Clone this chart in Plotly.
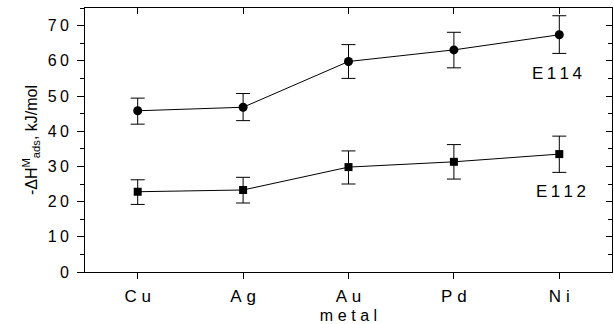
import plotly.graph_objects as go

# Metals on the x axis
metals = ["Cu", "Ag", "Au", "Pd", "Ni"]

# Adsorption enthalpies (kJ/mol) with upper / lower uncertainties
e114 = [45.8, 46.8, 59.8, 63.1, 67.4]
e114_up = [3.6, 3.9, 4.8, 5.0, 5.4]
e114_dn = [3.8, 3.8, 4.8, 5.1, 5.3]

e112 = [22.8, 23.3, 29.8, 31.3, 33.5]
e112_up = [3.4, 3.6, 4.6, 4.9, 5.1]
e112_dn = [3.6, 3.7, 4.8, 4.9, 5.2]

y_ticks = [0, 10, 20, 30, 40, 50, 60, 70]

# Label positions for the two series names (data units)
label_y = {"E114": 56.4, "E112": 22.9}

SP = "\u2009"          # thin space used as letter spacing
SP_WIDE = "\u2009\u200a"


def spaced(s, sep=SP):
    return sep.join(s)


x_idx = list(range(len(metals)))
FAM = "Liberation Sans, Arial, sans-serif"
font = dict(family=FAM, size=16, color="black")
font_big = dict(family=FAM, size=17, color="black")

fig = go.Figure()

for vals, up, dn, sym in [(e114, e114_up, e114_dn, "circle"),
                          (e112, e112_up, e112_dn, "square")]:
    fig.add_trace(go.Scatter(
        x=x_idx, y=vals, mode="lines+markers",
        line=dict(color="black", width=1),
        marker=dict(symbol=sym, size=9 if sym == "circle" else 8, color="black"),
        error_y=dict(type="data", symmetric=False, array=up, arrayminus=dn,
                     color="black", thickness=1, width=7),
        showlegend=False,
    ))

# Series labels
fig.add_annotation(x=x_idx[-1], y=label_y["E114"], text=spaced("E114"),
                   showarrow=False, yanchor="middle", xshift=-2, font=font_big)
fig.add_annotation(x=x_idx[-1], y=label_y["E112"], text=spaced("E112"),
                   showarrow=False, yanchor="middle", xshift=2, font=font_big)

axis_common = dict(showline=True, linecolor="black", linewidth=1, showgrid=False,
                   zeroline=False, tickcolor="black", automargin=False)

fig.update_layout(
    width=614, height=324,
    margin=dict(l=85, r=2, t=8, b=52, autoexpand=False),
    paper_bgcolor="white", plot_bgcolor="white",
    font=font,
    xaxis=dict(**axis_common, range=[-0.5, 4.5], tickvals=x_idx,
               ticktext=[spaced(m, SP_WIDE) for m in metals],
               ticks="outside", ticklen=6, tickfont=font_big, ticklabelstandoff=3,
               title=dict(text=spaced("metal", SP_WIDE), standoff=7, font=font)),
    xaxis2=dict(**axis_common, range=[-0.5, 4.5], tickvals=x_idx, ticks="inside",
                ticklen=6, showticklabels=False, overlaying="x", side="top"),
    yaxis=dict(**axis_common, range=[0, 75], tickvals=y_ticks,
               ticktext=[spaced(str(v)) for v in y_ticks], ticks="outside",
               ticklen=7, ticklabelstandoff=5,
               minor=dict(dtick=5, tick0=0, ticks="outside", ticklen=4, tickcolor="black"),
               title=dict(text="-\u0394H<sup>M</sup><sub>ads</sub>, kJ/mol", standoff=6,
                          font=font)),
    yaxis2=dict(**axis_common, range=[0, 75], tickvals=y_ticks, ticks="inside",
                ticklen=6, showticklabels=False, overlaying="y", side="right",
                minor=dict(dtick=5, tick0=0, ticks="inside", ticklen=4, tickcolor="black")),
)

# Invisible trace to show the mirrored top/right axes
fig.add_trace(go.Scatter(x=[None], y=[None], xaxis="x2", yaxis="y2", showlegend=False))

fig.write_html("out.html")
